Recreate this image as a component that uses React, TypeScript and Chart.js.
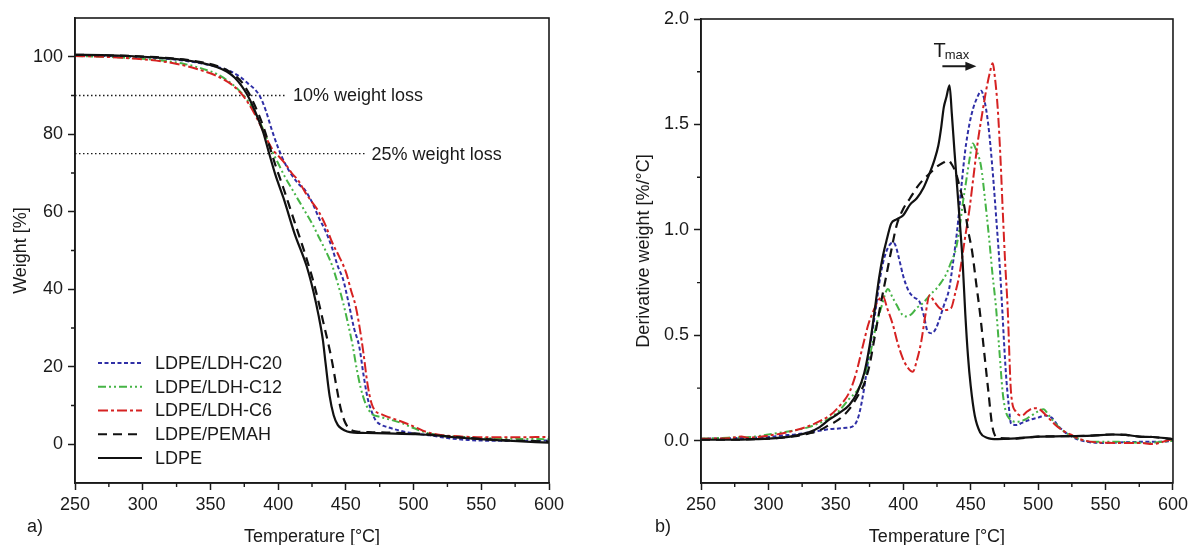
import React, { useEffect, useRef } from "react";
import { Chart, registerables } from "chart.js";
Chart.register(...registerables);

const FONT = '"Liberation Sans", Arial, Helvetica, sans-serif';
const INK = "#1a1a1a";

// ---------- axis ticks ----------
const tempTicks = [250, 300, 350, 400, 450, 500, 550, 600];
const tempMinor = [275, 325, 375, 425, 475, 525, 575];
const weightTicks = [0, 20, 40, 60, 80, 100];
const weightMinor = [10, 30, 50, 70, 90];
const derivTicks = [0, 0.5, 1.0, 1.5, 2.0];
const derivMinor = [0.25, 0.75, 1.25, 1.75];

// ---------- panel a) TGA ----------
const tgaT_LDPE = [250,270,290,310,330,345,355,362,368,373,377,381,385,389,393,398,404,412,421,426,430,433,435,438,441,444,447,451,456,465,480,500,512,530,549,570,600];
const tgaW_LDPE = [100.5,100.4,100.2,99.8,99.2,98.3,97.3,96.2,94.6,92.5,90.3,87.5,84.2,80.5,75.5,69.5,63.5,54.5,46,39.5,33,27,21,12.5,7.5,5,4,3.3,3.0,2.9,2.8,2.6,2.4,1.8,1.3,0.9,0.4];

const tgaT_PEMAH = [250,270,290,310,330,345,355,362,368,373,378,382,386,390,394,398,404,412,420,426,430,434,437,440,443,446,449,452,455,460,470,480,500,512,530,549,570,600];
const tgaW_PEMAH = [100.5,100.4,100.2,99.9,99.3,98.5,97.6,96.6,95.2,93.5,90.8,88,84.8,81,76.5,72,66,57.5,49,42,36.5,30.5,26,21,15,9.5,6,4.2,3.5,3.2,3.1,3.0,2.8,2.5,1.9,1.4,1.0,0.7];

const tgaT_C20 = [250,270,290,310,330,345,355,365,372,378,383,387,391,395,400,405,410,415,420,425,430,435,440,444,448,452,456,460,463,466,469,472,476,480,490,500,512,525,540,560,580,600];
const tgaW_C20 = [100.3,100.2,100,99.7,99,98.2,97.4,96.2,94.8,93,91.5,89.5,86,81.5,76.5,72.5,69.5,67.2,65.5,62.5,58.5,55,50.5,46,42.5,36.5,30,25,18,12,8.5,6.2,5,4.5,3.5,2.8,2.3,1.6,1.1,0.9,0.9,1.0];

const tgaT_C12 = [250,270,290,310,330,345,355,365,372,378,383,388,392,395,400,405,410,415,420,425,430,435,440,444,448,452,455,458,461,464,467,470,475,480,490,500,510,520,535,550,575,600];
const tgaW_C12 = [100.2,100,99.7,99.2,98.2,96.8,95.5,93.2,91,88.5,85.5,82,78.5,76,72.5,69,66,63,60,57,53.5,50,46,41.5,36.5,30.5,25.5,19.5,14.5,11,8.8,7.6,7.1,6.6,5.6,4.2,2.9,2.3,1.9,1.6,1.4,1.3];

const tgaT_C6 = [250,270,290,310,330,345,355,365,372,378,383,388,392,396,400,405,410,415,420,425,430,435,440,445,450,454,457,460,463,466,469,472,476,480,490,500,510,520,535,550,575,600];
const tgaW_C6 = [100.2,100,99.6,99,97.8,96.3,95,93,90.8,88,85,81.5,78.5,76,74.5,72.5,70,68,65,62.5,60,56.5,52,48.5,44.5,39.5,36,30.5,23.5,15.5,10.5,8.5,7.8,7.2,6,4.6,3.1,2.4,2.0,1.8,1.8,1.9];

// reference lines (weight loss levels)
const refLevels = [90, 75];
const refEndT = [406, 464];
const refLabels = ["10% weight loss", "25% weight loss"];
const refLabelT = [411, 469];

// ---------- panel b) DTG ----------
const dtgT_LDPE = [250,270,290,300,310,320,330,338,345,352,360,366,371,375,378,382,385,388,391,395,400,405,410,415,419,423,426,428,430,432,434.3,436,438,440,442,444,446,448,450,453,457,462,470,480,500,520,540,555,565,575,585,595,600];
const dtgD_LDPE = [0.005,0.005,0.008,0.01,0.015,0.025,0.04,0.065,0.1,0.13,0.17,0.23,0.32,0.45,0.58,0.77,0.88,0.96,1.03,1.05,1.07,1.12,1.15,1.2,1.26,1.33,1.4,1.48,1.58,1.63,1.686,1.55,1.37,1.2,1.03,0.85,0.6,0.4,0.26,0.12,0.04,0.015,0.008,0.01,0.02,0.022,0.025,0.03,0.028,0.02,0.018,0.012,0.008];

const dtgT_PEMAH = [250,270,290,300,310,320,330,338,345,352,360,366,371,375,379,383,387,391,395,400,405,410,415,420,425,430,433,436,439,442,445,448,451,454,457,460,463,466,470,480,500,520,540,555,565,575,585,595,600];
const dtgD_PEMAH = [0.005,0.005,0.008,0.01,0.015,0.022,0.035,0.05,0.075,0.1,0.15,0.21,0.27,0.36,0.5,0.64,0.77,0.9,1.02,1.1,1.15,1.2,1.24,1.27,1.3,1.32,1.33,1.31,1.27,1.2,1.12,1.0,0.9,0.75,0.6,0.42,0.24,0.07,0.015,0.01,0.02,0.022,0.025,0.03,0.028,0.02,0.018,0.012,0.008];

const dtgT_C20 = [250,270,290,300,310,320,330,340,345,352,358,363,367,371,375,379,383,386,389,392,394,397,400,404,408,412,415,418,421,424,427,430,434,437,440,443,446,449,452,455,457.7,460,463,466,469,472,476,478,480,484,488,494,500,505,510,515,520,525,530,540,550,560,575,590,600];
const dtgD_C20 = [0.01,0.012,0.015,0.018,0.025,0.03,0.04,0.05,0.055,0.058,0.062,0.07,0.12,0.25,0.43,0.6,0.78,0.87,0.92,0.94,0.93,0.86,0.78,0.71,0.68,0.66,0.6,0.52,0.51,0.53,0.58,0.64,0.72,0.85,1.0,1.2,1.38,1.5,1.58,1.63,1.66,1.62,1.5,1.3,1.05,0.78,0.33,0.18,0.08,0.075,0.085,0.1,0.11,0.12,0.11,0.07,0.04,0.02,0.005,-0.008,-0.01,-0.008,-0.005,-0.005,0.0];

const dtgT_C12 = [250,270,290,300,310,320,330,340,345,352,360,366,370,375,380,384,388.6,392,395,399,402,406,410,414,417,421,424.4,428,431.8,435,439.2,442,444,446.6,449,451.5,454,457.7,460,463.8,466,468.8,471,473.7,476,478.7,483.6,490,495,500,504,508,513,518,523,530,540,560,580,600];
const dtgD_C12 = [0.01,0.015,0.02,0.03,0.04,0.05,0.065,0.09,0.105,0.14,0.2,0.24,0.29,0.4,0.55,0.64,0.72,0.68,0.645,0.6,0.59,0.6,0.63,0.65,0.67,0.7,0.72,0.75,0.79,0.84,0.915,1.02,1.12,1.23,1.33,1.41,1.38,1.30,1.18,0.95,0.8,0.63,0.45,0.23,0.14,0.105,0.09,0.1,0.12,0.14,0.15,0.12,0.08,0.05,0.03,0.01,-0.005,-0.005,-0.01,0.0];

const dtgT_C6 = [250,270,280,285,300,310,320,330,340,345.5,352,360,365,370,374,377.5,381,384.9,388,392.3,396,399.7,403,407.1,410,413.3,416.5,419.5,423,426.8,431,435.5,438.5,441.7,445.5,449.1,452,455.3,458.5,461.4,464,466.3,468,470,472,473.7,475.5,477.4,479.9,483.6,488,492,497,501,506,512,518,524,530,540,560,575,585,595,600];
const dtgD_C6 = [0.01,0.012,0.02,0.015,0.025,0.035,0.05,0.07,0.1,0.12,0.16,0.23,0.32,0.45,0.55,0.61,0.66,0.685,0.63,0.55,0.46,0.39,0.35,0.327,0.38,0.47,0.6,0.69,0.66,0.63,0.62,0.63,0.7,0.79,0.95,1.1,1.25,1.42,1.55,1.66,1.74,1.79,1.72,1.58,1.35,1.1,0.85,0.63,0.23,0.137,0.12,0.14,0.155,0.15,0.12,0.08,0.05,0.03,0.01,-0.005,-0.01,-0.01,-0.015,0.0,0.01];

// Tmax annotation (data coordinates of panel b)
const tmaxTextT = 422.4;
const tmaxTextD = 1.8175;
const tmaxArrowT = [429, 454.2];
const tmaxArrowD = 1.776;

// ---------- styles ----------
type Style = { color: string; width: number; dash: number[] };
const STYLES: Record<string, Style> = {
  "LDPE/LDH-C20": { color: "#2f2fa6", width: 2, dash: [4, 2.5] },
  "LDPE/LDH-C12": { color: "#45b445", width: 2, dash: [8, 3, 2, 3, 2, 3] },
  "LDPE/LDH-C6": { color: "#d62222", width: 2, dash: [10, 3, 3, 3] },
  "LDPE/PEMAH": { color: "#111111", width: 2.2, dash: [9, 6] },
  LDPE: { color: "#111111", width: 2.2, dash: [] },
};
const legendOrder = ["LDPE/LDH-C20", "LDPE/LDH-C12", "LDPE/LDH-C6", "LDPE/PEMAH", "LDPE"];

function series(name: string, xs: number[], ys: number[]) {
  const s = STYLES[name];
  return {
    label: name,
    data: xs.map((x, i) => ({ x, y: ys[i] })),
    borderColor: s.color,
    borderWidth: s.width,
    borderDash: s.dash,
    pointRadius: 0,
    fill: false,
    cubicInterpolationMode: "monotone" as const,
  };
}

function lineSeg(ctx: CanvasRenderingContext2D, x1: number, y1: number, x2: number, y2: number) {
  ctx.beginPath();
  ctx.moveTo(x1, y1);
  ctx.lineTo(x2, y2);
  ctx.stroke();
}

function framePlugin(minorX: number[], minorY: number[], extra: (chart: any) => void) {
  return {
    id: "frameAndNotes",
    afterDraw(chart: any) {
      const { ctx, chartArea: a, scales } = chart;
      ctx.save();
      ctx.setLineDash([]);
      ctx.strokeStyle = INK;
      ctx.lineWidth = 1.6;
      ctx.strokeRect(a.left, a.top, a.right - a.left, a.bottom - a.top);
      ctx.lineWidth = 1.4;
      ctx.beginPath();
      for (const v of minorX) {
        const p = scales.x.getPixelForValue(v);
        ctx.moveTo(p, a.bottom);
        ctx.lineTo(p, a.bottom + 4);
      }
      for (const v of minorY) {
        const p = scales.y.getPixelForValue(v);
        ctx.moveTo(a.left, p);
        ctx.lineTo(a.left - 4, p);
      }
      ctx.stroke();
      extra(chart);
      ctx.restore();
    },
  };
}

function makeOptions(p: {
  yMin: number; yMax: number; yTicks: number[]; yFmt: (v: number) => string;
  yTitle: string; yWidth: number; yTitlePad: number; padding: any;
}) {
  const tickFont = { family: FONT, size: 18 };
  return {
    responsive: false,
    animation: false as const,
    devicePixelRatio: 1,
    layout: { padding: p.padding },
    plugins: { legend: { display: false }, tooltip: { enabled: false } },
    scales: {
      x: {
        type: "linear" as const,
        min: 250,
        max: 600,
        afterBuildTicks: (s: any) => { s.ticks = tempTicks.map((v) => ({ value: v })); },
        afterFit: (s: any) => { s.height = 62; },
        ticks: { autoSkip: false, maxRotation: 0, padding: 4, color: INK, font: tickFont, callback: (v: any) => String(v) },
        grid: { display: true, drawOnChartArea: false, drawTicks: true, tickLength: 7, tickColor: INK, tickWidth: 1.5 },
        border: { display: true, color: INK, width: 1.6 },
        title: { display: true, text: "Temperature [°C]", color: INK, font: { family: FONT, size: 18, lineHeight: 1.2 }, padding: { top: 0, bottom: -3 } },
      },
      y: {
        type: "linear" as const,
        min: p.yMin,
        max: p.yMax,
        afterBuildTicks: (s: any) => { s.ticks = p.yTicks.map((v) => ({ value: v })); },
        afterFit: (s: any) => { s.width = p.yWidth; },
        ticks: { autoSkip: false, padding: 5, color: INK, font: tickFont, callback: (v: any) => p.yFmt(Number(v)) },
        grid: { display: true, drawOnChartArea: false, drawTicks: true, tickLength: 7, tickColor: INK, tickWidth: 1.5 },
        border: { display: true, color: INK, width: 1.6 },
        title: { display: true, text: p.yTitle, color: INK, font: { family: FONT, size: 18, lineHeight: 1.2 }, padding: { top: p.yTitlePad, bottom: 0 } },
      },
    },
  };
}

export default function App() {
  const leftRef = useRef<HTMLCanvasElement>(null);
  const rightRef = useRef<HTMLCanvasElement>(null);

  useEffect(() => {
    const refDatasets = refLevels.map((lv, i) => ({
      label: refLabels[i],
      data: [{ x: 250, y: lv }, { x: refEndT[i], y: lv }],
      borderColor: INK,
      borderWidth: 1.3,
      borderDash: [1.5, 2.5],
      pointRadius: 0,
      fill: false,
    }));

    const left = new Chart(leftRef.current!, {
      type: "line",
      data: {
        datasets: [
          series("LDPE", tgaT_LDPE, tgaW_LDPE),
          series("LDPE/PEMAH", tgaT_PEMAH, tgaW_PEMAH),
          series("LDPE/LDH-C6", tgaT_C6, tgaW_C6),
          series("LDPE/LDH-C12", tgaT_C12, tgaW_C12),
          series("LDPE/LDH-C20", tgaT_C20, tgaW_C20),
          ...refDatasets,
        ] as any,
      },
      options: makeOptions({
        yMin: -10, yMax: 110, yTicks: weightTicks, yFmt: (v) => String(v),
        yTitle: "Weight [%]", yWidth: 75, yTitlePad: 10,
        padding: { top: 18, right: 47, left: 0, bottom: 0 },
      }) as any,
      plugins: [
        framePlugin(tempMinor, weightMinor, (chart: any) => {
          const { ctx, scales } = chart;
          const x = scales.x, y = scales.y;
          ctx.fillStyle = INK;
          ctx.font = `18px ${FONT}`;
          ctx.textAlign = "left";
          ctx.textBaseline = "middle";
          refLevels.forEach((lv, i) => {
            ctx.fillText(refLabels[i], x.getPixelForValue(refLabelT[i]), y.getPixelForValue(lv) + 1);
          });
          legendOrder.forEach((name, i) => {
            const s = STYLES[name];
            const yy = 363 + i * 23.75;
            ctx.strokeStyle = s.color;
            ctx.lineWidth = s.width;
            ctx.setLineDash(s.dash);
            lineSeg(ctx, 98, yy, 142, yy);
            ctx.setLineDash([]);
            ctx.fillText(name, 155, yy + 1);
          });
          ctx.fillText("a)", 27, 527);
        }),
      ],
    });

    const right = new Chart(rightRef.current!, {
      type: "line",
      data: {
        datasets: [
          series("LDPE", dtgT_LDPE, dtgD_LDPE),
          series("LDPE/PEMAH", dtgT_PEMAH, dtgD_PEMAH),
          series("LDPE/LDH-C6", dtgT_C6, dtgD_C6),
          series("LDPE/LDH-C12", dtgT_C12, dtgD_C12),
          series("LDPE/LDH-C20", dtgT_C20, dtgD_C20),
        ] as any,
      },
      options: makeOptions({
        yMin: -0.2, yMax: 2.0, yTicks: derivTicks, yFmt: (v) => v.toFixed(1),
        yTitle: "Derivative weight [%/°C]", yWidth: 105, yTitlePad: 37,
        padding: { top: 19, right: 18, left: 0, bottom: 0 },
      }) as any,
      plugins: [
        framePlugin(tempMinor, derivMinor, (chart: any) => {
          const { ctx, scales } = chart;
          const x = scales.x, y = scales.y;
          ctx.fillStyle = INK;
          ctx.strokeStyle = INK;
          ctx.textAlign = "left";
          ctx.textBaseline = "alphabetic";
          const tx = x.getPixelForValue(tmaxTextT);
          const ty = y.getPixelForValue(tmaxTextD);
          ctx.font = `20px ${FONT}`;
          ctx.fillText("T", tx, ty);
          const w = ctx.measureText("T").width;
          ctx.font = `13px ${FONT}`;
          ctx.fillText("max", tx + w - 1, ty + 1.5);
          const ax1 = x.getPixelForValue(tmaxArrowT[0]);
          const ax2 = x.getPixelForValue(tmaxArrowT[1]);
          const ay = y.getPixelForValue(tmaxArrowD);
          ctx.lineWidth = 2;
          ctx.setLineDash([]);
          lineSeg(ctx, ax1, ay, ax2 - 8, ay);
          ctx.beginPath();
          ctx.moveTo(ax2, ay);
          ctx.lineTo(ax2 - 11, ay - 4.5);
          ctx.lineTo(ax2 - 11, ay + 4.5);
          ctx.closePath();
          ctx.fill();
          ctx.font = `18px ${FONT}`;
          ctx.textBaseline = "middle";
          ctx.fillText("b)", 59, 527);
        }),
      ],
    });

    return () => {
      left.destroy();
      right.destroy();
    };
  }, []);

  return (
    <div style={{ position: "absolute", left: 0, top: 0, width: 1192, height: 545, background: "#fff", overflow: "hidden" }}>
      <canvas ref={leftRef} width={596} height={545} style={{ position: "absolute", left: 0, top: 0 }} />
      <canvas ref={rightRef} width={596} height={545} style={{ position: "absolute", left: 596, top: 0 }} />
    </div>
  );
}
